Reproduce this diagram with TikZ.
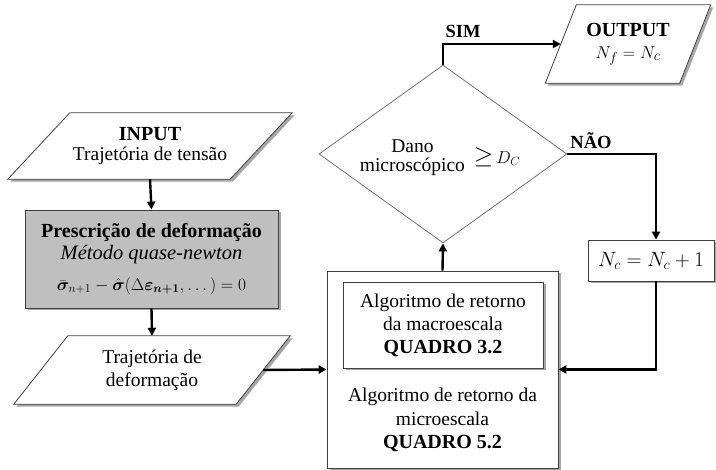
\documentclass[tikz,border=0pt]{standalone}
\usepackage{amsmath,bm,graphicx}
\usepackage{fontspec}
\setmainfont{Liberation Serif}
\usetikzlibrary{shapes.geometric,arrows.meta,shadows,backgrounds}
\begin{document}
\begin{tikzpicture}[x=1pt,y=-1pt,
  every node/.style={font=\fontsize{19.5}{22}\selectfont, inner sep=0pt},
  shp/.style={draw=black!75, line width=0.8pt, fill=white,
    drop shadow={shadow xshift=2.5pt,shadow yshift=-2.5pt,fill=black,opacity=0.35}},
  boxnode/.style={shp, rectangle, align=center},
  ptext/.style={rectangle, align=center},
  dianode/.style={draw=black!55, line width=0.8pt, fill=white, diamond},
  conn/.style={line width=2.4pt, -{Triangle[length=8pt,width=8pt]}},
  lbl/.style={font=\fontsize{18.5}{20}\selectfont\bfseries}
]
\useasboundingbox (0,0) rectangle (716,470);

% input (parallelogram, slant 62)
\node[ptext, minimum width=222pt, minimum height=66pt] (in) at (150,146)
  {{\fontsize{20}{20}\selectfont\textbf{INPUT}}\\[-2pt]Trajetória de tensão};

% gray box
\node[boxnode, fill=black!25, minimum width=253pt, minimum height=98pt] (gray) at (151.5,259)
  {{\fontsize{20}{22}\selectfont\textbf{Prescrição de deformação}}\\
   {\fontsize{20.5}{22}\selectfont\textit{Método quase-newton}}\\[9pt]
   {\fontsize{17.28}{18}\selectfont$\bar{\bm\sigma}_{n+1}-\hat{\bm\sigma}(\Delta\bm\varepsilon_{\bm{n+1}},\dots)=0$}};

% trajetoria de deformacao (parallelogram, slant 54)
\node[ptext, minimum width=222pt, minimum height=68pt, font=\fontsize{19.5}{23}\selectfont] (traj) at (152,370)
  {Trajetória de\\deformação};

% big box
\node[boxnode, minimum width=231pt, minimum height=197pt] (big) at (442.5,369.5) {};
\node[boxnode, minimum width=200pt, minimum height=86pt, font=\fontsize{19.5}{23}\selectfont] (inner) at (443,325)
  {Algoritmo de retorno\\da macroescala\\{\fontsize{20}{23}\selectfont\textbf{QUADRO 3.2}}};
\node[align=center, font=\fontsize{19.5}{23.5}\selectfont] (lower) at (442.5,420)
  {Algoritmo de retorno da\\microescala\\{\fontsize{20}{23}\selectfont\textbf{QUADRO 5.2}}};

% diamond
\node[dianode, minimum width=248pt, minimum height=178pt] (dia) at (443,154) {};
\node (dtxt) at (440,158)
  {\begin{tabular}{@{}c@{}}Dano\\[-3pt]microscópico\end{tabular}\hspace{9pt}{\fontsize{24}{24}\selectfont$\geq$}\hspace{3pt}{\fontsize{17.28}{18}\selectfont$D_C$}};

% output (parallelogram, slant 31)
\node[ptext, minimum width=134pt, minimum height=78pt] (out) at (628,44)
  {{\fontsize{20}{21}\selectfont\textbf{OUTPUT}}\\{\fontsize{19}{21}\selectfont$N_f=N_c$}};

% Nc box
\node[boxnode, minimum width=126pt, minimum height=41pt] (nc) at (651,260.5)
  {{\fontsize{20.74}{22}\selectfont$N_c=N_c+1$}};

% parallelogram outlines behind their texts
\begin{pgfonlayer}{background}
\path[shp] ([xshift=31pt]in.north west) -- ([xshift=31pt]in.north east)
  -- ([xshift=-31pt]in.south east) -- ([xshift=-31pt]in.south west) -- cycle;
\path[shp] ([xshift=27pt]traj.north west) -- ([xshift=27pt]traj.north east)
  -- ([xshift=-27pt]traj.south east) -- ([xshift=-27pt]traj.south west) -- cycle;
\path[shp] ([xshift=15.5pt]out.north west) -- ([xshift=15.5pt]out.north east)
  -- ([xshift=-15.5pt]out.south east) -- ([xshift=-15.5pt]out.south west) -- cycle;
\end{pgfonlayer}

% connectors
\draw[conn] (in.south) -- (gray.north);
\draw[conn] (gray.south) -- (traj.north);
\draw[conn] (traj.east) -- (big.west);
\draw[conn] (big.north) -- (dia.south);
\draw[conn] (dia.north) |- (out.west);
\coordinate (ncin) at ([xshift=5pt]nc.north);
\coordinate (ncout) at ([xshift=5pt]nc.south);
\draw[conn] (dia.east) -| (ncin);
\draw[conn] (ncout) |- (big.east);

\node[lbl] (sim) at (463,31) {SIM};
\node[lbl] (nao) at (591,141) {NÃO};
\end{tikzpicture}
\end{document}
